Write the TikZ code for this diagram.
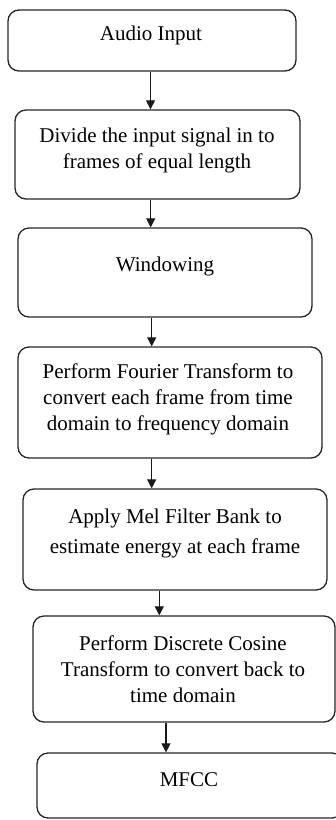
\documentclass[tikz,border=0pt]{standalone}
\usepackage{fontspec}
\setmainfont{Liberation Serif}
\usetikzlibrary{arrows.meta}
\begin{document}
\begin{tikzpicture}[x=1pt,y=-1pt,
  box/.style={draw=black!85,line width=1.3pt,rounded corners=11pt,inner sep=0pt},
  lbl/.style={align=center,inner sep=0pt,font=\fontsize{21}{26}\selectfont},
  arr/.style={draw=black!90,line width=1.2pt,-{Triangle[width=9pt,length=9pt]}}]
\useasboundingbox (0,0) rectangle (336,820);
\node[box,minimum width=288pt,minimum height=61pt] (b1) at (152,40.5) {};
\node[box,minimum width=285pt,minimum height=89pt] (b2) at (157.5,154.5) {};
\node[box,minimum width=294pt,minimum height=89pt] (b3) at (165,272.5) {};
\node[box,minimum width=304pt,minimum height=111pt] (b4) at (170,402.5) {};
\node[box,minimum width=304pt,minimum height=101pt] (b5) at (175,539.5) {};
\node[box,minimum width=302pt,minimum height=106pt] (b6) at (184,669) {};
\node[box,minimum width=306pt,minimum height=65pt] (b7) at (190,785.5) {};
\node[lbl] (t1) at (151,35) {Audio Input};
\node[lbl] (t2) at (157,150.5) {Divide the input signal in to\\frames of equal length};
\node[lbl] (t3) at (165,266) {Windowing};
\node[lbl] (t4) at (168,399) {Perform Fourier Transform to\\convert each frame from time\\domain to frequency domain};
\node[lbl,font=\fontsize{21}{30}\selectfont] (t5) at (175,533.5) {Apply Mel Filter Bank to\\estimate energy at each frame};
\node[lbl] (t6) at (183,669) {Perform Discrete Cosine\\Transform to convert back to\\time domain};
\node[lbl] (t7) at (189,780) {MFCC};
\coordinate (x1) at (150.5,0);
\coordinate (x2) at (150.7,0);
\coordinate (x3) at (151.7,0);
\coordinate (x4) at (151.7,0);
\coordinate (x5) at (159.3,0);
\coordinate (x6) at (166,0);
\draw[arr] (x1 |- b1.south) -- (x1 |- b2.north);
\draw[arr] (x2 |- b2.south) -- (x2 |- b3.north);
\draw[arr] (x3 |- b3.south) -- (x3 |- b4.north);
\draw[arr] (x4 |- b4.south) -- (x4 |- b5.north);
\draw[arr] (x5 |- b5.south) -- (x5 |- b6.north);
\draw[arr] (x6 |- b6.south) -- (x6 |- b7.north);
\end{tikzpicture}
\end{document}
